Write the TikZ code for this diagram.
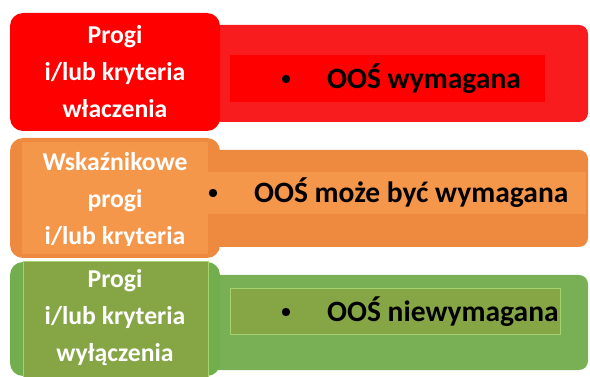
\documentclass[tikz,border=0pt]{standalone}
\usepackage{fontspec}
\setmainfont{Carlito}
\definecolor{redA}{HTML}{FF0000}
\definecolor{redB}{HTML}{F81C1F}
\definecolor{orA}{HTML}{ED8A40}
\definecolor{orB}{HTML}{F5974B}
\definecolor{grA}{HTML}{72AE4D}
\definecolor{grR}{HTML}{79B055}
\definecolor{grB}{HTML}{86A646}
\definecolor{grL}{HTML}{A5D46E}
\tikzset{
  lefttext/.style={text=white, font=\bfseries\fontsize{25.7}{37}\selectfont, align=center, inner sep=0pt},
  righttext/.style={text=black, font=\bfseries\fontsize{29.5}{34}\selectfont, anchor=west, inner sep=0pt},
  bul/.style={circle, fill=black, inner sep=0pt, minimum size=8.4pt},
}
\begin{document}
\begin{tikzpicture}[x=1pt,y=-1pt]
\useasboundingbox (0,0) rectangle (590,377);
% ---------- red row ----------
\fill[redB, rounded corners=9pt] (200,25) rectangle (588,122);
\fill[redA] (230,55) rectangle (545,102);
\fill[redA, rounded corners=13pt] (10,13) rectangle (220,131);
\node[lefttext] (l1) at (115,72) {Progi\\i/lub kryteria\\właczenia};
\node[bul] (b1) at (286,79) {};
\node[righttext] (r1) at (327,79) {OOŚ wymagana};
% ---------- orange row ----------
\fill[orA, rounded corners=9pt] (200,150) rectangle (588,247);
\fill[orA, rounded corners=13pt] (10,138) rectangle (220,258);
\fill[orB] (22,142) rectangle (208,254);
\fill[orB] (207,172) rectangle (586,214);
\begin{scope}
\clip (0,138) rectangle (220,246);
\node[lefttext] (l2) at (115,200.5) {Wskaźnikowe\\progi\\i/lub kryteria};
\end{scope}
\node[bul] (b2) at (213,193) {};
\node[righttext] (r2) at (254,193) {OOŚ może być wymagana};
% ---------- green row ----------
\fill[grR, rounded corners=9pt] (200,275) rectangle (588,370);
\fill[grB, draw=grL, line width=1pt] (230,289) rectangle (560,335);
\fill[grA, rounded corners=13pt] (10,262) rectangle (220,376);
\fill[grB, draw=grL, line width=1pt] (23,262) rectangle (208,378);
\node[lefttext] (l3) at (115,318) {Progi\\i/lub kryteria\\wyłączenia};
\node[bul] (b3) at (286,312) {};
\node[righttext] (r3) at (327,312) {OOŚ niewymagana};
\end{tikzpicture}
\end{document}
